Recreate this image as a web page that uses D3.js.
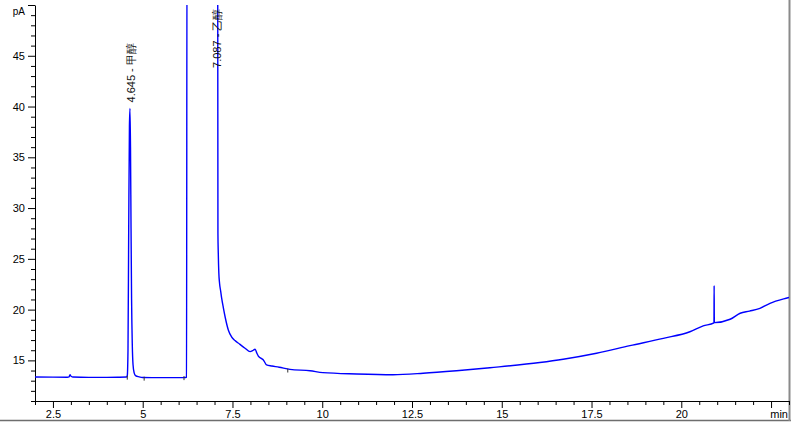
<!DOCTYPE html>
<html>
<head>
<meta charset="utf-8">
<script src="https://cdn.jsdelivr.net/npm/d3@7"></script>
<style>
  html, body { margin: 0; padding: 0; background: #fff; }
  svg { display: block; }
  text { font-family: "Liberation Sans", Arial, sans-serif; }
</style>
</head>
<body>
<svg id="chart" width="791" height="430"></svg>
<script>
// ---- data ----
const timeMin = [
  2.0, 2.5, 2.9, 2.95, 2.975, 3.0, 3.05, 3.5, 4.0, 4.3, 4.55,
  4.57, 4.59, 4.61, 4.63, 4.645, 4.66, 4.675, 4.69, 4.71, 4.73, 4.76, 4.80, 4.9,
  5.0, 5.5, 6.0, 6.2, 6.22, 6.235, 7.087, 7.095, 7.105, 7.12, 7.14, 7.172, 7.2, 7.245, 7.3, 7.384,
  7.47, 7.57, 7.7, 7.85, 7.99, 8.06, 8.13, 8.18, 8.22, 8.3, 8.36, 8.45, 8.6, 8.8, 9.1,
  9.66, 10.02, 10.96, 11.97, 12.81, 13.74, 14.67, 16.06, 16.71, 17.64, 18.57, 19.5, 20.24,
  20.61, 20.91, 20.915, 20.92, 21.36, 21.64, 21.9, 22.19, 22.47, 22.97, 23.0
];
const signalPA = [
  13.36, 13.35, 13.34, 13.38, 13.58, 13.45, 13.36, 13.33, 13.33, 13.34, 13.36,
  13.5, 16.0, 28.0, 38.0, 39.8, 36.0, 28.0, 21.0, 16.5, 14.6, 13.8, 13.5, 13.38,
  13.32, 13.30, 13.30, 13.32, 13.35, 60.0, 60.0, 27.5, 25.5, 23.6, 22.6, 21.8, 21.1, 20.2, 19.2, 18.0,
  17.35, 16.95, 16.6, 16.2, 15.86, 15.95, 16.1, 15.7, 15.43, 15.2, 15.04, 14.55, 14.45, 14.33, 14.12,
  13.98, 13.79, 13.66, 13.59, 13.73, 13.98, 14.28, 14.79, 15.11, 15.70, 16.45, 17.17, 17.82,
  18.39, 18.70, 22.35, 18.72, 19.05, 19.64, 19.85, 20.13, 20.62, 21.17, 21.2
];
const peakTimes = [4.645, 7.087];
const peakNames = ["4.645 - 甲醇", "7.087 - 乙醇"];
const peakLabelValues = [40.4, 43.8];
const markerTimes = [4.57, 5.04, 6.15, 9.04];
const markerValues = [13.4, 13.3, 13.35, 14.1];
const xMajorTicks = [2.5, 5, 7.5, 10, 12.5, 15, 17.5, 20, 22.5];
const xTickLabels = ["2.5", "5", "7.5", "10", "12.5", "15", "17.5", "20", ""];
const yMajorTicks = [15, 20, 25, 30, 35, 40, 45, 50];
const yTickLabels = ["15", "20", "25", "30", "35", "40", "45", ""];
const xUnit = "min";
const yUnit = "pA";

// ---- chart ----
const svg = d3.select("#chart");
const x = d3.scaleLinear().domain([2, 23]).range([35, 789]);
const y = d3.scaleLinear().domain([11, 50]).range([401, 5]);

const xMinor = d3.range(2, 23.001, 0.5).filter(v => !xMajorTicks.some(m => Math.abs(m - v) < 1e-6));
const yMinor = d3.range(11, 50.001, 1).filter(v => !yMajorTicks.includes(v));

// frame lines (grey)
svg.append("line").attr("x1", 0).attr("x2", 791).attr("y1", 420.5).attr("y2", 420.5)
  .attr("stroke", "#6e6e6e").attr("stroke-width", 1.5);
svg.append("line").attr("x1", 789.5).attr("x2", 789.5).attr("y1", 0).attr("y2", 421)
  .attr("stroke", "#8a8a8a").attr("stroke-width", 2);

// x axis
const gx = svg.append("g").attr("transform", "translate(0,401)");
gx.call(d3.axisBottom(x).tickValues(xMajorTicks).tickSize(7).tickSizeOuter(0).tickPadding(2)
  .tickFormat((d, i) => xTickLabels[i]));
svg.append("g").attr("transform", "translate(0,401)")
  .call(d3.axisBottom(x).tickValues(xMinor).tickSize(4).tickSizeOuter(0).tickFormat(""))
  .select(".domain").remove();

// y axis
const gy = svg.append("g").attr("transform", "translate(35,0)");
gy.call(d3.axisLeft(y).tickValues(yMajorTicks).tickSize(7).tickSizeOuter(0).tickPadding(3)
  .tickFormat((d, i) => yTickLabels[i]));
svg.append("g").attr("transform", "translate(35,0)")
  .call(d3.axisLeft(y).tickValues(yMinor).tickSize(4).tickSizeOuter(0).tickFormat(""))
  .select(".domain").remove();

svg.selectAll(".tick text").attr("font-size", 11).attr("fill", "#000")
  .attr("font-family", "'Liberation Sans', Arial, sans-serif");
svg.selectAll(".domain, .tick line").attr("stroke", "#000");

svg.append("text").attr("x", 25).attr("y", 15).attr("text-anchor", "end")
  .attr("font-size", 10).text(yUnit);
svg.append("text").attr("x", 788).attr("y", 417.5).attr("text-anchor", "end")
  .attr("font-size", 11).text(xUnit);

// clip
svg.append("clipPath").attr("id", "plotclip")
  .append("rect").attr("x", 35).attr("y", 5).attr("width", 754).attr("height", 396);

// trace
const data = timeMin.map((t, i) => [t, signalPA[i]]);
svg.append("path")
  .datum(data)
  .attr("clip-path", "url(#plotclip)")
  .attr("fill", "none")
  .attr("stroke", "#0000ff")
  .attr("stroke-width", 1.4)
  .attr("stroke-linejoin", "round")
  .attr("d", d3.line().curve(d3.curveMonotoneX).x(d => x(d[0])).y(d => y(d[1])));

// integration markers
svg.selectAll(".marker").data(markerTimes).enter().append("line")
  .attr("x1", d => x(d)).attr("x2", d => x(d))
  .attr("y1", (d, i) => y(markerValues[i]) - 1)
  .attr("y2", (d, i) => y(markerValues[i]) + 3)
  .attr("stroke", "#333").attr("stroke-width", 1);

// peak labels
const labelDx = [1, -1];
svg.selectAll(".plabel").data(peakTimes).enter().append("text")
  .attr("transform", (d, i) => `translate(${x(d) + labelDx[i]},${y(peakLabelValues[i])}) rotate(-90)`)
  .attr("dy", "0.35em")
  .attr("text-anchor", "start")
  .attr("font-size", 11)
  .attr("fill", "#111")
  .text((d, i) => peakNames[i]);
</script>
</body>
</html>
